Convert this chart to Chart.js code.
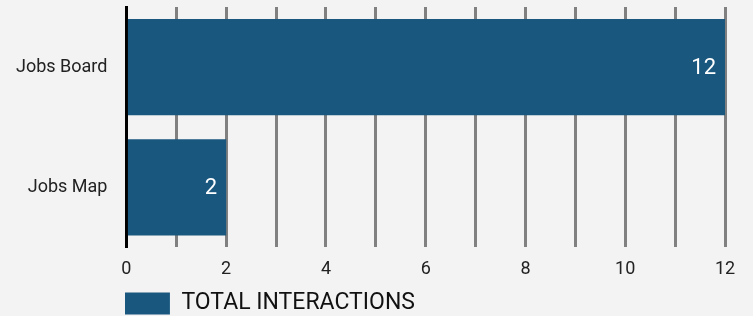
<!DOCTYPE html>
<html>
<head>
<meta charset="utf-8">
<script src="https://cdn.jsdelivr.net/npm/chart.js@4/dist/chart.umd.min.js"></script>
<style>
html,body{margin:0;padding:0;background:#f3f3f3;}
#wrap{width:753px;height:316px;position:relative;}
</style>
</head>
<body>
<div id="wrap"><canvas id="c" width="753" height="316"></canvas></div>
<script>
const categories = ["Jobs Board", "Jobs Map"];
const seriesName = "TOTAL INTERACTIONS";
const totalInteractions = [12, 2];
const xTicks = [0, 2, 4, 6, 8, 10, 12];

const barColor = "#19577f";

const valueLabels = {
  id: "valueLabels",
  afterDatasetsDraw(chart) {
    const ctx = chart.ctx;
    const meta = chart.getDatasetMeta(0);
    ctx.save();
    ctx.font = "22px Roboto";
    ctx.fillStyle = "#ffffff";
    ctx.textAlign = "right";
    ctx.textBaseline = "middle";
    meta.data.forEach((el, i) => {
      const p = el.getProps(["x", "y"], true);
      ctx.fillText(String(chart.data.datasets[0].data[i]), p.x - 9, p.y + 1);
    });
    ctx.restore();
  }
};

const legendShift = {
  id: "legendShift",
  afterLayout(chart) {
    if (chart.legend) {
      chart.legend.left = chart.chartArea.left - 1.5;
      chart.legend.top += 1;
    }
  }
};

new Chart(document.getElementById("c"), {
  type: "bar",
  data: {
    labels: categories,
    datasets: [{
      label: seriesName,
      data: totalInteractions,
      backgroundColor: barColor,
      borderWidth: 0,
      barPercentage: 0.8,
      categoryPercentage: 1.0
    }]
  },
  options: {
    indexAxis: "y",
    responsive: false,
    animation: false,
    devicePixelRatio: 1,
    layout: { padding: { top: 7, right: 28, left: -3, bottom: -8 } },
    plugins: {
      legend: {
        display: true,
        position: "bottom",
        align: "start",
        labels: {
          boxWidth: 45,
          boxHeight: 22,
          padding: 0,
          color: "#111",
          font: { family: "Roboto", size: 23 }
        }
      },
      tooltip: { enabled: false }
    },
    scales: {
      x: {
        min: 0,
        max: 12,
        afterBuildTicks(scale) {
          scale.ticks = [];
          for (let v = 0; v <= 12; v++) scale.ticks.push({ value: v });
        },
        afterFit(scale) { scale.paddingLeft = 0; scale.paddingRight = 0; },
        ticks: {
          color: "#222",
          font: { family: "Roboto", size: 18 },
          padding: 11,
          maxRotation: 0,
          callback: (v) => (xTicks.includes(v) ? String(v) : "")
        },
        grid: {
          color: "#808080",
          lineWidth: 3,
          drawTicks: false
        },
        border: { display: false }
      },
      y: {
        afterFit(scale) { scale.paddingTop = 0; scale.paddingBottom = 0; },
        ticks: {
          color: "#222",
          font: { family: "Roboto", size: 18 },
          padding: 19
        },
        grid: { display: false, drawTicks: false },
        border: { display: true, color: "#000", width: 3 }
      }
    }
  },
  plugins: [valueLabels, legendShift]
});
</script>
</body>
</html>
